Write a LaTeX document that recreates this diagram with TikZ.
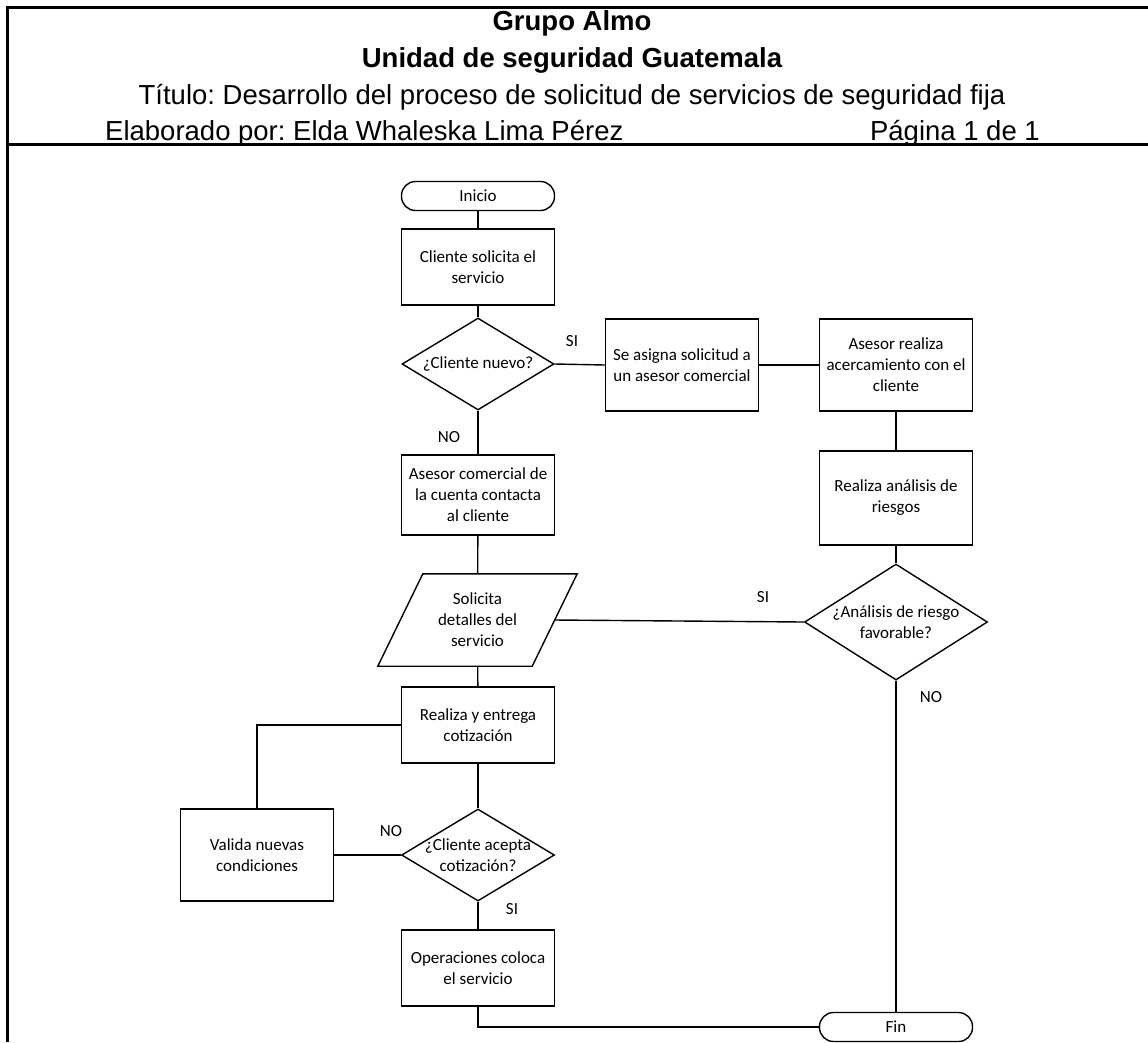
\documentclass[tikz,border=0pt]{standalone}
\usepackage{fontspec}
\setmainfont{Liberation Sans}
\newfontfamily\boxfont{Carlito}
\usetikzlibrary{shapes.geometric,shapes.misc}
\frenchspacing

\tikzset{
  frameline/.style={line width=3pt},
  link/.style={line width=1.4pt},
  boxtext/.style={font=\boxfont\fontsize{17}{21}\selectfont, align=center, inner sep=0pt},
  procbox/.style={draw, line width=1.4pt, rectangle, minimum width=153pt, boxtext},
  termbox/.style={draw, line width=1.4pt, rectangle, rounded corners=14pt,
    minimum width=153pt, minimum height=29pt, boxtext},
  decbox/.style={draw, line width=1.4pt, diamond, inner sep=0pt},
  iobody/.style={rectangle, minimum width=154pt, minimum height=92pt, boxtext},
  lbl/.style={boxtext},
  hdrb/.style={font=\fontsize{27.5}{37}\selectfont\bfseries, inner sep=0pt},
  hdr/.style={font=\fontsize{27.5}{37}\selectfont, inner sep=0pt},
}

\begin{document}
\begin{tikzpicture}[x=1pt,y=-1pt]
\useasboundingbox (0,0) rectangle (1148,1042);

% page frame and header rule
\draw[frameline] (7,1042) -- (7,7) -- (1148,7);
\draw[frameline] (7,144) -- (1148,144);

% header
\node[hdrb, anchor=base] (t1) at (572,30) {Grupo Almo};
\node[hdrb, anchor=base] (t2) at (572,67) {Unidad de seguridad Guatemala};
\node[hdr, anchor=base] (t3) at (572,104) {Título: Desarrollo del proceso de solicitud de servicios de seguridad fija};
\node[hdr, anchor=base west] (t4) at (105,140) {Elaborado por: Elda Whaleska Lima Pérez};
\node[hdr, anchor=base east] (t5) at (1040,140) {Página 1 de 1};

% main column
\node[termbox] (ini) at (478,196) {Inicio};
\node[procbox, minimum height=76pt] (b1) at (478,267) {Cliente solicita el\\servicio};
\node[decbox, minimum width=152pt, minimum height=92pt] (d1) at (478,364) {};
\node[boxtext] at (d1) {¿Cliente nuevo?};
\node[procbox, minimum height=80pt] (b2) at (478,495) {Asesor comercial de\\la cuenta contacta\\al cliente};
% data (parallelogram) step: slanted outline around a plain body node
\node[iobody] (p) at (477.5,620) {Solicita\\detalles del\\servicio};
\draw[link] ([xshift=22.5pt]p.north west) -- ([xshift=22.5pt]p.north east)
  -- ([xshift=-22.5pt]p.south east) -- ([xshift=-22.5pt]p.south west) -- cycle;
\node[procbox, minimum height=76pt] (b3) at (478,725) {Realiza y entrega\\cotización};
\node[decbox, minimum width=153pt, minimum height=92pt] (d2) at (478,855) {};
\node[boxtext] at (d2) {¿Cliente acepta\\cotización?};
\node[procbox, minimum height=92pt] (b4) at (257,855) {Valida nuevas\\condiciones};
\node[procbox, minimum height=76pt] (b5) at (478,968) {Operaciones coloca\\el servicio};

% right column
\node[procbox, minimum height=92pt] (r1) at (682,365) {Se asigna solicitud a\\un asesor comercial};
\node[procbox, minimum height=92pt] (r2) at (896,365) {Asesor realiza\\acercamiento con el\\cliente};
\node[procbox, minimum height=94pt] (r3) at (896,498) {Realiza análisis de\\riesgos};
\node[decbox, minimum width=183pt, minimum height=116pt] (d3) at (896,622) {};
\node[boxtext] at (d3) {¿Análisis de riesgo\\favorable?};
\node[termbox] (fin) at (896,1027) {Fin};

% connectors
\draw[link] (ini) -- (b1);
\draw[link] (b1) -- (d1);
\draw[link] (d1.east) -- (r1.west);
\draw[link] (r1) -- (r2);
\draw[link] (r2) -- (r3);
\draw[link] (r3) -- (d3);
\draw[link] (d3.west) -- (p.east);
\draw[link] (d3.south) -- (fin.north);
\draw[link] (d1.south) -- (b2.north);
\draw[link] (b2) -- (p);
\draw[link] (p) -- (b3);
\draw[link] (b3) -- (d2);
\draw[link] (b3.west) -| (b4.north);
\draw[link] (b4.east) -- (d2.west);
\draw[link] (d2.south) -- (b5.north);
\draw[link] (b5.south) |- (fin.west);

% branch labels
\node[lbl] (l1) at (572,341) {SI};
\node[lbl] (l2) at (449,437) {NO};
\node[lbl] (l3) at (763,597) {SI};
\node[lbl] (l4) at (931,697) {NO};
\node[lbl] (l5) at (391,831) {NO};
\node[lbl] (l6) at (512,909) {SI};
\end{tikzpicture}
\end{document}
